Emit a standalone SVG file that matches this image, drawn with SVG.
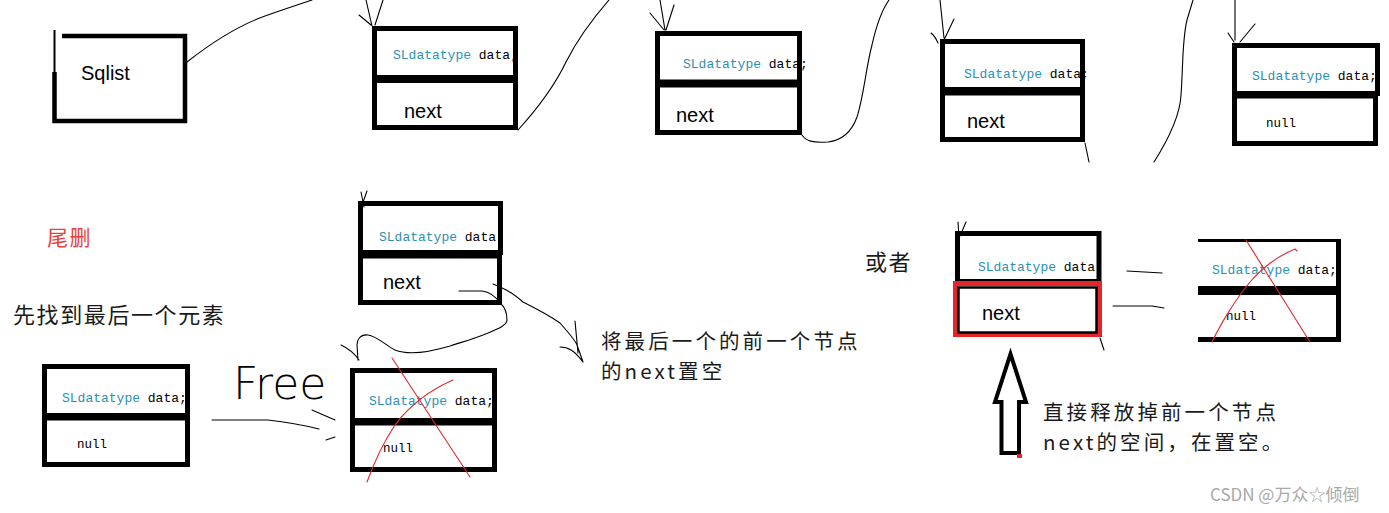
<svg xmlns="http://www.w3.org/2000/svg" width="1389" height="513" viewBox="0 0 1389 513">
<style>
.box{fill:none;stroke:#000;stroke-width:5}
.ln{fill:none;stroke:#000;stroke-width:1.1;stroke-linecap:round;stroke-linejoin:round}
.rx{fill:none;stroke:#e0282e;stroke-width:1.1;stroke-linecap:round}
.m{font-family:"Liberation Mono",monospace;font-size:13px;fill:#000}
.ty{fill:#2b91af}
.nl{font-family:"Liberation Mono",monospace;font-size:12.5px;fill:#000}
.nx{font-family:"Liberation Sans",Arial,sans-serif;font-size:20px;fill:#000}
.cn{font-family:"Noto Sans CJK SC",sans-serif;font-size:22px;letter-spacing:1.6px;fill:#1a1a1a}
.cn2{font-family:"Noto Sans CJK SC",sans-serif;font-size:20.5px;letter-spacing:3.1px;fill:#1a1a1a}
</style>
<rect width="1389" height="513" fill="#fff"/>

<g id="sqlist">
<path d="M62,36 H185 V121 H54.5 V72" fill="none" stroke="#000" stroke-width="4.5"/>
<path d="M54.5,30 V74" stroke="#000" stroke-width="2"/>
<text class="nx" x="81" y="80">Sqlist</text>
</g>

<g id="node1">
<text class="m" x="393" y="59"><tspan class="ty">SLdatatype</tspan> data;</text>
<text class="nx" x="404" y="118">next</text>
<rect class="box" x="374.5" y="28.5" width="141" height="49"/>
<rect class="box" x="374.5" y="80.5" width="141" height="47"/>
</g>

<g id="node2">
<text class="m" x="683" y="68"><tspan class="ty">SLdatatype</tspan> data;</text>
<text class="nx" x="676" y="122">next</text>
<rect class="box" x="657.5" y="33.5" width="142" height="48.5"/>
<rect class="box" x="657.5" y="85" width="142" height="47.5"/>
</g>

<g id="node3">
<text class="m" x="964" y="78"><tspan class="ty">SLdatatype</tspan> data;</text>
<text class="nx" x="967" y="128">next</text>
<rect class="box" x="942.5" y="41.5" width="140" height="48"/>
<rect class="box" x="942.5" y="93" width="140" height="46.5"/>
</g>

<g id="node4">
<text class="m" x="1252" y="80"><tspan class="ty">SLdatatype</tspan> data;</text>
<text class="nl" x="1266" y="127">null</text>
<rect class="box" x="1234.5" y="45.5" width="143" height="48"/>
<rect class="box" x="1234.5" y="96" width="141" height="47.5"/>
</g>

<g id="node-mid">
<text class="m" x="379" y="241"><tspan class="ty">SLdatatype</tspan> data;</text>
<text class="nx" x="383" y="289">next</text>
<rect class="box" x="360.5" y="203.5" width="140" height="49"/>
<rect class="box" x="360.5" y="256" width="139" height="46.5"/>
</g>

<g id="node-bl">
<text class="m" x="62" y="402"><tspan class="ty">SLdatatype</tspan> data;</text>
<text class="nl" x="77" y="448">null</text>
<rect class="box" x="44.5" y="366.5" width="143" height="49"/>
<rect class="box" x="44.5" y="418" width="143" height="46.5"/>
</g>

<g id="node-x">
<text class="m" x="369" y="405"><tspan class="ty">SLdatatype</tspan> data;</text>
<text class="nl" x="383" y="452">null</text>
<rect class="box" x="352.5" y="370.5" width="142" height="50"/>
<rect class="box" x="352.5" y="423" width="142" height="46.5"/>
</g>

<g id="node-red">
<text class="m" x="978" y="271"><tspan class="ty">SLdatatype</tspan> data;</text>
<text class="nx" x="982" y="320">next</text>
<rect class="box" x="957.5" y="233.5" width="141.5" height="48"/>
<rect x="955.5" y="283.5" width="144" height="51" fill="none" stroke="#e5252a" stroke-width="5"/>
<rect x="958.5" y="287.5" width="138" height="45" fill="none" stroke="#000" stroke-width="2.5"/>
</g>

<g id="node-rx">
<text class="m" x="1212" y="274"><tspan class="ty">SLdatatype</tspan> data;</text>
<text class="nl" x="1226" y="320">null</text>
<path d="M1198,240.5 H1338" stroke="#000" stroke-width="3" fill="none"/>
<path d="M1338.5,239 V342" stroke="#000" stroke-width="5" fill="none"/>
<path d="M1198,290.5 H1341" stroke="#000" stroke-width="9" fill="none"/>
<path d="M1198,339.5 H1341" stroke="#000" stroke-width="5" fill="none"/>
</g>

<g id="connectors">
<path class="ln" d="M187,62 C215,40 240,25 265,16 C285,9 300,4 312,0"/>
<path class="ln" d="M366,0 L372,26 M383,0 L375,25 M359,15 L371,25"/>
<path class="ln" d="M518,130 C538,108 555,85 566,62 C578,38 596,15 609,0"/>
<path class="ln" d="M660,0 L665,30 M674,5 L666,30 M650,13 L664,30"/>
<path class="ln" d="M802,135 C806,141 812,143 828,142 C845,140 853,128 857,117 C864,95 866,67 872,45 C876,27 882,10 889,0"/>
<path class="ln" d="M940,0 L944,38 M931,33 Q935,36 938,43 M954,19 L944,40"/>
<path class="ln" d="M1085,143 L1089,162"/>
<path class="ln" d="M1154,162 C1168,140 1180,115 1181,95 C1183,70 1182,40 1187,20 L1193,0"/>
<path class="ln" d="M1235,0 L1235,40 M1228,33 L1234,42 M1255,24 L1240,42"/>
<path class="ln" d="M361,192 L364,207 M367,191 L362,205"/>
<path class="ln" d="M459,291 L482,291 C490,292 496,297 500,303"/>
<path class="ln" d="M493,284 C510,291 515,295 523,302 C535,308 550,316 560,323 C568,332 575,340 577,345 L583,362 M575,321 L578,353 M560,347 C568,347 574,350 583,362"/>
<path class="ln" d="M500,303 C505,307 507,312 507,320 C507,326 495,330 483,335 C470,340 462,342 450,346 C430,352 410,356 395,350 C385,345 377,336 368,335 C360,334 357,340 357,345 L358,360 M341,345 Q352,350 359,360"/>
<path class="ln" d="M212,420 L268,420 Q295,423 319,429 M312,410 L335,420 M326,440 L335,437"/>
<path class="ln" d="M958,222 L959,237 M966,222 L960,236"/>
<path class="ln" d="M1127,271 L1162,273"/>
<path class="ln" d="M1113,306 L1152,306 L1164,308"/>
<path class="ln" d="M1100,338 L1104,350"/>
</g>

<g id="marks">
<path class="rx" d="M392,358 L470,477"/>
<path class="rx" d="M367,482 C375,460 385,440 395,425 C410,405 430,390 453,380"/>
<path class="rx" d="M1246,240 L1310,342"/>
<path class="rx" d="M1212,342 C1220,325 1235,300 1250,282 C1265,265 1280,255 1295,249 L1297,251"/>
<polygon points="1010.5,354 1026,402 1019,402 1019,453 1001.5,453 1001.5,402 995,402" fill="none" stroke="#000" stroke-width="4" stroke-linejoin="miter"/>
<rect x="1017" y="454" width="5" height="4" fill="#e5252a"/>
<text x="233" y="399" font-family="DejaVu Sans,sans-serif" font-weight="200" font-size="44" fill="#000">Free</text>
</g>

<g id="labels">
<text x="47" y="245" font-family="Noto Sans CJK SC,sans-serif" font-size="21" letter-spacing="1.5" fill="#e8413c">尾删</text>
<text class="cn" x="13" y="323">先找到最后一个元素</text>
<text class="cn2"><tspan x="601" y="349">将最后一个的前一个节点</tspan><tspan x="601" y="379">的next置空</tspan></text>
<text class="cn" x="865" y="270">或者</text>
<text class="cn2"><tspan x="1043" y="420">直接释放掉前一个节点</tspan><tspan x="1043" y="450">next的空间，在置空。</tspan></text>
<text x="1210" y="501" font-family="Noto Sans CJK SC,sans-serif" font-size="17" fill="#a8a8a8">CSDN @万众☆倾倒</text>
</g>
</svg>
